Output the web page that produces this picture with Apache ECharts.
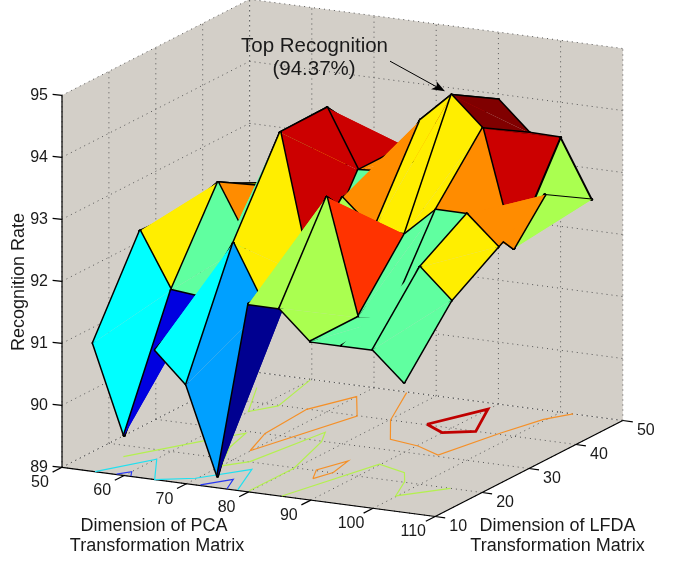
<!DOCTYPE html>
<html>
<head>
<meta charset="utf-8">
<style>html,body{margin:0;padding:0;background:#fff}#chart{width:675px;height:561px}</style>
<script src="https://cdn.jsdelivr.net/npm/echarts@6/dist/echarts.min.js"></script>
</head>
<body>
<div id="chart"></div>
<script>
// surface samples
const pcaDims = [55, 60, 65, 70, 75, 80, 85, 90, 95, 100, 105];
const lfdaDims = [10, 20, 30, 40, 50];
const rateAtLfda10 = [91.07, 89.65, 91.09, 90.60, 89.19, 92.03, 92.03, 91.56, 91.56, 91.56, 91.10];
const rateAtLfda20 = [92.49, 91.60, 91.55, 92.49, 91.54, 92.07, 93.43, 91.56, 91.61, 92.50, 92.03];
const rateAtLfda30 = [92.45, 92.95, 92.04, 93.89, 91.60, 92.97, 92.51, 92.51, 92.97, 92.97, 92.51];
const rateAtLfda40 = [92.48, 92.50, 92.52, 93.90, 92.96, 93.00, 93.90, 94.37, 93.90, 92.03, 92.96];
const rateAtLfda50 = [92.10, 92.12, 92.50, 93.00, 92.96, 92.96, 93.40, 93.91, 93.44, 93.43, 92.50];
const rates = [rateAtLfda10, rateAtLfda20, rateAtLfda30, rateAtLfda40, rateAtLfda50];

// ticks
const pcaTicks = [50, 60, 70, 80, 90, 100, 110];
const lfdaTicks = [10, 20, 30, 40, 50];
const rateTicks = [89, 90, 91, 92, 93, 94, 95];

// colour bands: upper limit of each band, last one open
const bandLimits = [89.4, 90.1, 90.8, 91.3, 91.8, 92.25, 92.75, 93.2, 93.65, 94.1, 99];
const bandColors = ['#000090', '#0000e0', '#00a0ff', '#00ffff', '#60ffa0', '#aaff50', '#ffee00', '#ff8c00', '#ff3300', '#cc0000', '#800000'];

// contours on the floor, [pca, lfda]
const blueContourA = [[58.7, 10.1], [60, 11.6], [61, 10.1]];
const blueContourB = [[72.1, 10.2], [74.9, 13.5], [76.5, 10]];
const cyanContour = [[55.3, 10], [60.1, 16.8], [64.9, 10], [69.8, 12.2], [74.8, 17.6], [78.1, 10.2]];
const limeContourA = [[55, 44.9], [59.9, 36.6], [62.3, 39.8], [59.9, 49.8]];
const limeContourB = [[55.2, 16.2], [61.6, 25.1], [65, 29.3], [66.5, 23.8], [70, 17.4], [72.6, 20.1], [74.9, 33.1], [76.8, 29.8], [79.9, 19.8], [79.8, 10.4]];
const limeContourC = [[85.3, 10.1], [89.8, 24.9], [95.1, 23.2], [97.4, 20.2], [99.8, 15.1], [104.9, 20]];
const orangeContourA = [[69.9, 23.7], [67.5, 30.1], [66.8, 39.9], [70, 46.3], [74.9, 39.9], [69.9, 23.7]];
const orangeContourB = [[75.4, 49.8], [80.2, 40], [85, 33.6], [90.2, 32.6], [95, 30.5], [97.5, 40.4], [99.6, 46.9], [102, 50]];
const orangeContourC = [[84.9, 17.2], [83.2, 20.2], [85, 24.6], [86, 20.1], [84.9, 17.2]];
const redContour = [[85.9, 40.2], [89.9, 38.1], [93.9, 40], [89.9, 47.9], [85.9, 40.2]];
const contours = [
  { line: blueContourA, color: '#2838f0', width: 1.2 },
  { line: blueContourB, color: '#2838f0', width: 1.2 },
  { line: cyanContour, color: '#20e0f0', width: 1.2 },
  { line: limeContourA, color: '#b4f050', width: 1.2 },
  { line: limeContourB, color: '#b4f050', width: 1.2 },
  { line: limeContourC, color: '#b4f050', width: 1.2 },
  { line: orangeContourA, color: '#f59028', width: 1.2 },
  { line: orangeContourB, color: '#f59028', width: 1.2 },
  { line: orangeContourC, color: '#f59028', width: 1.2 },
  { line: redContour, color: '#c00000', width: 2.8 }
];

// fixed view of the 3d box
const project = (p, l, z) => [
  62 + 6.22 * (p - 50) + 4.69 * (l - 10),
  467.3 + 0.82 * (p - 50) - 2.4 * (l - 10) - 62 * (z - 89)
];

const bandColor = (z) => bandColors[bandLimits.findIndex((v) => z < v)];

const chart = echarts.init(document.getElementById('chart'), null, { renderer: 'canvas' });

const pMin = 50, pMax = 110, lMin = 10, lMax = 50, zMin = 89, zMax = 95;

// back walls and dotted grid
const renderWalls = (params, api) => {
  const pt = (p, l, z) => api.coord(project(p, l, z));
  const wall = (points) => ({ type: 'polygon', shape: { points }, style: { fill: '#d3cfc8' } });
  const dotted = (a, b) => ({
    type: 'line',
    shape: { x1: a[0], y1: a[1], x2: b[0], y2: b[1] },
    style: { stroke: '#555', lineWidth: 1, lineDash: [1, 4], fill: null }
  });
  const children = [
    wall([pt(pMin, lMin, zMin), pt(pMin, lMax, zMin), pt(pMin, lMax, zMax), pt(pMin, lMin, zMax)]),
    wall([pt(pMin, lMax, zMin), pt(pMax, lMax, zMin), pt(pMax, lMax, zMax), pt(pMin, lMax, zMax)]),
    wall([pt(pMin, lMin, zMin), pt(pMax, lMin, zMin), pt(pMax, lMax, zMin), pt(pMin, lMax, zMin)])
  ];
  rateTicks.forEach((z) => {
    children.push(dotted(pt(pMin, lMin, z), pt(pMin, lMax, z)));
    children.push(dotted(pt(pMin, lMax, z), pt(pMax, lMax, z)));
  });
  lfdaTicks.forEach((l) => {
    children.push(dotted(pt(pMin, l, zMin), pt(pMin, l, zMax)));
    children.push(dotted(pt(pMin, l, zMin), pt(pMax, l, zMin)));
  });
  pcaTicks.forEach((p) => {
    children.push(dotted(pt(p, lMax, zMin), pt(p, lMax, zMax)));
    children.push(dotted(pt(p, lMin, zMin), pt(p, lMax, zMin)));
  });
  return { type: 'group', children };
};

const renderContour = (params, api) => {
  const c = contours[params.dataIndex];
  return {
    type: 'polyline',
    shape: { points: c.line.map((d) => api.coord(project(d[0], d[1], zMin))) },
    style: { stroke: c.color, lineWidth: c.width, fill: null }
  };
};

// one surface cell: outline and vertex dots, then two triangles that hide half of the outline
const renderFace = (params, api) => {
  const i = api.value(0), j = api.value(1);
  const v = (a, b) => api.coord(project(pcaDims[a], lfdaDims[b], rates[b][a]));
  const p00 = v(i, j), p10 = v(i + 1, j), p11 = v(i + 1, j + 1), p01 = v(i, j + 1);
  const fill = bandColor(rates[j][i]);
  const openBack = i === 7 && j === 0; // back edge does not show in the reference
  const backFirst = i === 9 && j === 3; // folded cell, its edges lie over the back triangle
  const backTri = { type: 'polygon', shape: { points: [p00, p11, p01] }, style: { fill } };
  const children = [];
  if (backFirst) children.push(backTri);
  children.push({
    type: openBack ? 'polyline' : 'polygon',
    shape: { points: openBack ? [p01, p00, p10, p11] : [p00, p10, p11, p01] },
    style: { fill: null, stroke: '#000', lineWidth: backFirst ? 2 : 3, lineJoin: 'round' }
  });
  [p00, p10, p11, p01].forEach((c) => {
    children.push({ type: 'circle', shape: { cx: c[0], cy: c[1], r: 1.6 }, style: { fill: '#000' } });
  });
  if (!backFirst) children.push(backTri);
  children.push({ type: 'polygon', shape: { points: [p00, p10, p11] }, style: { fill } });
  return { type: 'group', children };
};

const renderAxes = (params, api) => {
  const pt = (p, l, z) => api.coord(project(p, l, z));
  const seg = (a, b, w) => ({
    type: 'line',
    shape: { x1: a[0], y1: a[1], x2: b[0], y2: b[1] },
    style: { stroke: '#000', lineWidth: w || 1.2, fill: null }
  });
  const label = (text, c, dx, dy, align) => ({
    type: 'text',
    style: {
      text: String(text), x: c[0] + dx, y: c[1] + dy,
      font: '16px "Liberation Sans", Arial, sans-serif',
      fill: '#1a1a1a', align: align || 'center', verticalAlign: 'middle'
    }
  });
  const children = [
    seg(pt(pMin, lMin, zMin), pt(pMin, lMin, zMax)),
    seg(pt(pMin, lMin, zMin), pt(pMax, lMin, zMin)),
    seg(pt(pMax, lMin, zMin), pt(pMax, lMax, zMin))
  ];
  rateTicks.forEach((z) => {
    const c = pt(pMin, lMin, z);
    children.push(seg(c, [c[0] - 9.4, c[1] - 0.9]));
    children.push(label(z, c, -14, 0, 'right'));
  });
  pcaTicks.forEach((p) => {
    const c = pt(p, lMin, zMin);
    children.push(seg(c, [c[0] - 9.4, c[1] + 4.8]));
    children.push(label(p, c, -22, 15.4));
  });
  lfdaTicks.forEach((l) => {
    const c = pt(pMax, l, zMin);
    children.push(seg(c, [c[0] + 10, c[1] + 1.3]));
    children.push(label(l, c, 23, 10.2));
  });
  return { type: 'group', children };
};

const renderTexts = (params, api) => {
  const text = (s, x, y, size, rotation) => {
    const c = api.coord([x, y]);
    return {
      type: 'text',
      x: c[0], y: c[1], rotation: rotation || 0,
      style: {
        text: s, x: 0, y: 0,
        font: size + 'px "Liberation Sans", Arial, sans-serif',
        fill: '#1a1a1a', align: 'center', verticalAlign: 'middle'
      }
    };
  };
  const peak = api.coord(project(pcaDims[7], lfdaDims[3], rates[3][7]));
  const tip = [peak[0] - 6.5, peak[1] - 4];
  return {
    type: 'group',
    children: [
      text('Recognition Rate', 19, 282, 18, Math.PI / 2),
      text('Dimension of PCA', 154, 526, 18),
      text('Transformation Matrix', 157, 546, 18),
      text('Dimension of LFDA', 557.5, 526, 18),
      text('Transformation Matrix', 557.5, 546, 18),
      text('Top Recognition', 314.5, 46, 20.5),
      text('(94.37%)', 314, 69, 20.5),
      {
        type: 'line',
        shape: { x1: tip[0] - 55, y1: tip[1] - 30, x2: tip[0] - 6, y2: tip[1] - 3 },
        style: { stroke: '#000', lineWidth: 1, fill: null }
      },
      {
        type: 'polygon',
        shape: { points: [tip, [tip[0] - 8.5, tip[1] - 10], [tip[0] - 8, tip[1] - 5], [tip[0] - 14, tip[1] - 2]] },
        style: { fill: '#000' }
      }
    ]
  };
};

// painter order: far cells first
const faces = [];
for (let j = lfdaDims.length - 2; j >= 0; j--) {
  for (let i = 0; i < pcaDims.length - 1; i++) faces.push([i, j]);
}

const custom = (renderItem, data) => ({
  type: 'custom',
  coordinateSystem: 'cartesian2d',
  renderItem,
  data,
  silent: true,
  clip: false,
  animation: false
});

chart.setOption({
  animation: false,
  grid: { left: 0, right: 0, top: 0, bottom: 0 },
  xAxis: { type: 'value', min: 0, max: 675, show: false },
  yAxis: { type: 'value', min: 0, max: 561, inverse: true, show: false },
  series: [
    custom(renderWalls, [[0]]),
    custom(renderAxes, [[0]]),
    custom(renderContour, contours.map((c, k) => [k])),
    custom(renderFace, faces),
    custom(renderTexts, [[0]])
  ]
});

window.addEventListener('resize', () => chart.resize());
</script>
</body>
</html>
